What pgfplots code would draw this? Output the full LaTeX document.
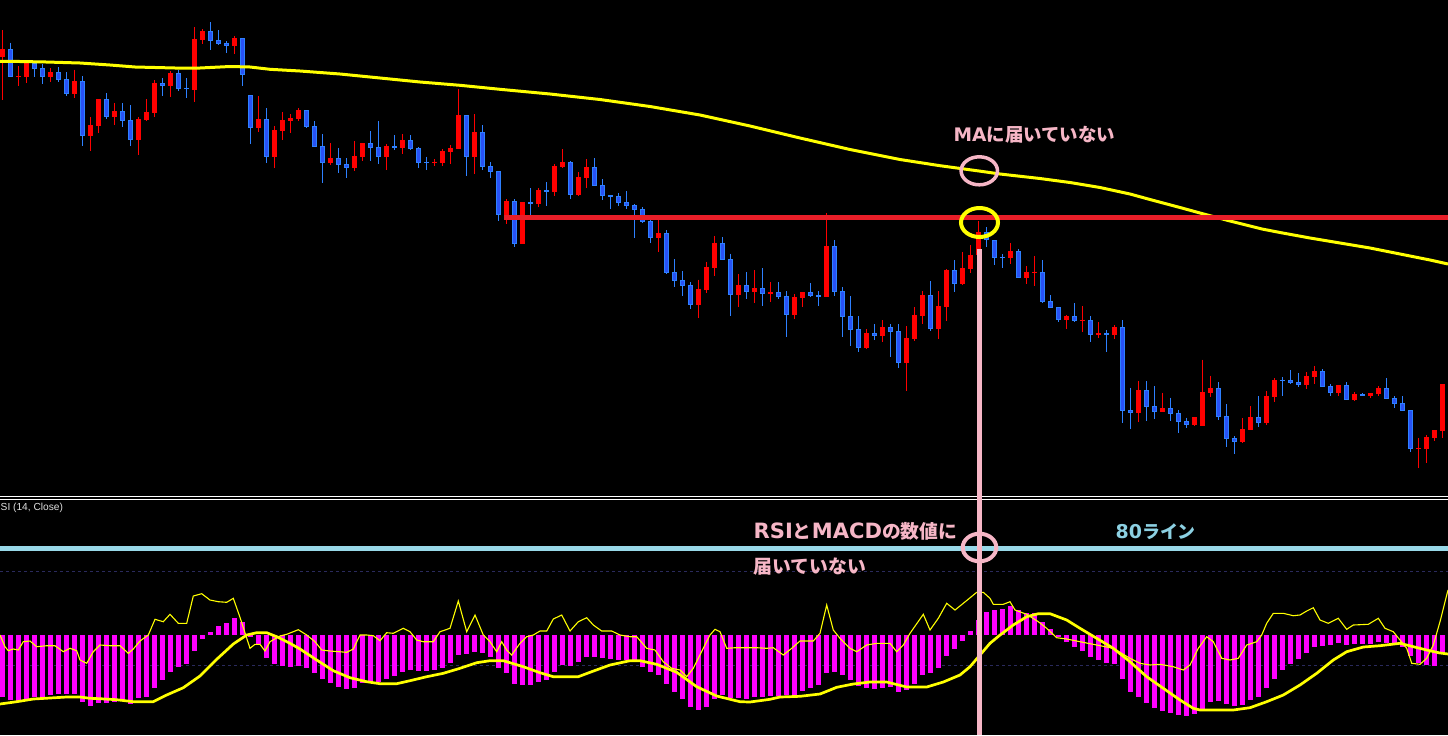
\documentclass[border=0pt]{standalone}
\usepackage{pgfplots}
\usepackage{pgfplotstable}
\pgfplotsset{compat=1.18}
\usepackage{fontspec}
\setmainfont{Liberation Sans}
\newfontfamily\jp{Noto Sans CJK JP}
\newfontfamily\lat{DejaVu Sans}
\newcommand{\latb}[2]{{\lat\bfseries\fontsize{#1}{#1}\selectfont #2}}
\newcommand{\jpb}[2]{{\jp\bfseries\fontsize{#1}{#1}\selectfont #2}}

\definecolor{upred}{RGB}{255,0,0}
\definecolor{dnedge}{RGB}{46,128,255}
\definecolor{dnfill}{RGB}{40,82,245}
\definecolor{maline}{RGB}{255,255,0}
\definecolor{hline}{RGB}{232,30,40}
\definecolor{pinkc}{RGB}{246,182,198}
\definecolor{lblue}{RGB}{152,216,232}
\definecolor{lbtext}{RGB}{140,208,226}
\definecolor{macdc}{RGB}{255,0,255}
\definecolor{dashc}{RGB}{42,42,92}

% candles: i, high, low, body top, body bottom (chart rows, top = 0)
\pgfplotstableread{
i hi lo bt bb
0 30 100 49 57
2 66 86 76 77.3
3 60 83.3 62 76.7
6 68.3 81.7 72 76.7
9 69.7 97.7 81 93.7
11 117 150.7 125 135.7
12 99 132.7 99 125.7
14 103 125 111 116.7
17 117 154.7 119 139.7
18 99 120.7 112 119.7
19 80 116.7 83 113
21 71 97 73 85.7
24 27 102 39 90
25 29 43.7 31 39.7
29 36 53.7 38 45.7
32 96 132 119 127.7
34 126 167.7 130 156.7
35 112 140 120 131
36 114 133 118 121
37 108 121 110 119
41 143 164.7 158 162.7
44 141 170.7 156 167.7
45 143 160.7 143 156.7
48 144 169.7 146 156.7
50 134 153.7 140 147.7
54 159 165.7 161.7 163
55 149 165.7 151 162.7
56 145 163.7 148 151.7
57 89 149 115 149
59 114 173.7 132 156.7
63 199 223.7 201 220
65 202 243.7 202 243.7
67 188 206.7 190 203.7
69 164 195.7 166 191.7
70 149 167.7 162 167
72 172 195.7 177 194.7
73 159 187.7 167 177.7
82 219 251.7 233 237.7
87 279.7 317.7 288.7 304.7
88 261.7 292.7 266.7 289.7
89 236 275.7 242.7 267.7
92 274 306.7 285 294.7
94 270 303 288 291.7
96 282 302 292 293.7
99 294 318.7 297 314.7
100 292 306.7 292 297.7
103 213 297 246 297
108 329 348.7 333 347.7
110 320 341.7 327 335.7
113 326 390.7 338 362.7
114 307 340.7 315 338.7
115 291 323.7 295 315.7
117 291 338.7 306 328.7
118 269 320.7 270 306.7
120 252 284.7 268 283.7
121 245 272.7 255 268.7
122 221 255 232 255
126 243 263.7 251 257.7
128 266 284 272 277.7
129 256 285.7 271.7 273
133 315 329 316 319.7
135 306 331.7 319.7 320.7
137 322 338 333 334.7
139 325 339 327 334.7
142 381 421.7 390 412.7
145 392.7 411.7 408 411.7
149 417 425.7 417 424.7
150 359.7 425.7 392 425.7
151 375.7 396.7 388 392.7
155 418 442.7 429 441.7
156 406 429.7 417 429.7
158 391 424.7 396 422.7
159 378 401.7 380 396.7
163 372 388.7 376 384.7
164 366 383.7 371 376.7
167 385 395.7 385 392.7
169 392 400.7 394 399.7
171 393 397.7 393 395.7
172 386 395.7 388 393.7
177 438 467.7 448 449.3
178 435 462.7 437 449
179 430 440.7 430 437.7
180 384 437.7 384 430.7
}\uptab

\pgfplotstableread{
i hi lo bt bb
1 42.7 76.7 49 76.7
4 61.7 76.7 62.7 68.7
5 64 84 68.3 76.7
7 67 81.7 72 79.7
8 72 95.7 79 93.7
10 76 145.7 81 135.7
13 93 118.7 99 116.7
15 103 126.7 111 120.7
16 105 145.7 120 139.7
20 78 96 83 85.7
22 70 91 73 89
23 78 98 88 89.3
26 22 50 31 40.7
27 30 45 40 43.7
28 41 53 42.7 45.7
30 38 86 38 74.7
31 95 144 95 127.7
33 108 163 119 156.7
38 110 127.7 110 126.7
39 121 146.7 126 146.7
40 134 182.7 146 162.7
42 148 172.7 158 164.7
43 158 177.7 164 167.7
46 131 160.7 143 147.7
47 121 163.7 147 156.7
49 135 149.7 146 147.7
51 135 149.7 140 148.7
52 147 167.7 148 162.7
53 156.7 169.7 161.7 163
58 115 175.7 115 156.7
60 125 169.7 132 166.7
61 162 177.7 166 171.7
62 171 220.7 171 214.7
64 199 246.7 201 243.7
66 188 215 202 203.7
68 182 205.7 190 191.7
71 161 198.7 162 194.7
74 158 185.7 167 185.7
75 179 199.7 185 195.7
76 195 208.7 195 196.7
77 193 205.7 196 202.7
78 191 208.7 202 205.7
79 204 237.7 205 209.7
80 207 222.7 209 221.7
81 220 242.7 221 237.7
83 230 273.7 233 272.7
84 259 286.7 272 280.7
85 271 295.7 280 285.7
86 282 308.7 285 304.7
90 237 259.7 242.7 259.7
91 253.7 315.7 259 294.7
93 272 298.7 285 291.7
95 268 306 288 294
97 282 298.7 292 296.7
98 291 336.7 296 314.7
101 283 296.7 292 295.7
102 291 306 295 296.7
104 240 295.7 246 291.7
105 287 336.7 291 316.7
106 296 345.7 316 329.7
107 316 351.7 329 347.7
109 324 339.7 333 335.7
111 324 356.7 327 331.7
112 324 367.7 331 362.7
116 281 330.7 295 328.7
119 260 291.7 270 283.7
123 227 247 232 240
124 240 264.7 240 257.7
125 254 268 256.7 258
127 249 277.7 251 277.7
130 260 302.7 272 301.7
131 295 307.7 301 307.7
132 307 321.7 307 319.7
134 303 321.7 316 320.7
136 316 341.7 320 334.7
138 330 351.7 333 334.7
140 320 422.7 327 410.7
141 387.7 428.7 410 412.7
143 381 420.7 390 406.7
144 386 418.7 406 411.7
146 397.7 420.7 408 413.7
147 410 432.7 413 421.7
148 417.7 427.7 421 424.7
152 382 419.7 388 416.7
153 404 446.7 416 438.7
154 436 453.7 438 441.7
157 396 426.7 417 422.7
160 377 395.7 380 381.3
161 370 383.7 380 382.7
162 373 386.7 382 384.7
165 369 386.7 371 386.7
166 384 395.7 386 392.7
168 382 399.7 385 399.7
170 393 395.7 394 395.7
173 378 398.7 388 398.7
174 396 407.7 398 403.7
175 396 410.7 403 410.7
176 410 451.7 410 448.7
}\dntab

% MACD histogram: bar end row, zero row = 635
\pgfplotstableread{
i m
0 696.7
1 700
2 701
3 699
4 696.7
5 696.7
6 695
7 694
8 694
9 694
10 701.7
11 705.7
12 703
13 703
14 701.7
15 701
16 704
17 698.3
18 696.7
19 687.7
20 679.7
21 671.7
22 666.7
23 664
24 650.7
25 638.7
26 631.7
27 626
28 622.7
29 618
30 622
31 637
32 644.3
33 657.7
34 664
35 665.7
36 666.7
37 665.7
38 667.7
39 672.7
40 679
41 682.7
42 687
43 688.7
44 688.3
45 683.3
46 681.7
47 682.3
48 678.7
49 676
50 671.7
51 670
52 670.7
53 670.7
54 669.7
55 668
56 663.3
57 655
58 654.3
59 651.7
60 653
61 656.7
62 667.7
63 672.7
64 684
65 685
66 684.7
67 682
68 680
69 672
70 665
71 665.7
72 662
73 656.7
74 656.7
75 657.7
76 658.7
77 660.3
78 660.3
79 660.7
80 667
81 671.7
82 675
83 683.7
84 691.7
85 698.7
86 707
87 709.7
88 706.7
89 698.7
90 695
91 697.7
92 698.3
93 698.7
94 697
95 696.7
96 696
97 696
98 695.3
99 695.3
100 690.7
101 688
102 684.7
103 672.7
104 671.7
105 675
106 680
107 685.7
108 688
109 688.7
110 687.7
111 686.7
112 691.7
113 690
114 684
115 675
116 672.7
117 668
118 655.7
119 649
120 640.7
121 631
122 620
123 612
124 610
125 609
126 606
127 610
128 612.7
129 613.3
130 622
131 629
132 637
133 641.7
134 646.7
135 650.7
136 657
137 660
138 662.7
139 664
140 679.3
141 691.7
142 697
143 702.7
144 707.7
145 710.7
146 712.7
147 715
148 715.7
149 714.3
150 708.7
151 701.7
152 700.7
153 704
154 706
155 705
156 699.7
157 696.7
158 688.3
159 678.7
160 669.7
161 663.7
162 658.7
163 653
164 646.7
165 645.7
166 645
167 642.7
168 644.7
169 644
170 644
171 644.3
172 642
173 643
174 643
175 646.7
176 656
177 662.7
178 664.7
179 665.7
180 654.3
}\macdtab

\begin{document}
\begin{tikzpicture}
\begin{axis}[
  scale only axis,
  width=14.48cm, height=7.35cm,
  xmin=0, xmax=1448,
  ymin=0, ymax=735,
  y dir=reverse,
  ticks=none,
  axis line style={draw=none},
  axis background/.style={fill=black},
  clip=true,
]
% ---- price panel: candles
\addplot[quiver={u=0,v=\thisrow{lo}-\thisrow{hi}}, color=upred, line width=0.012cm]
  table[x expr=8*\thisrow{i}+2.3, y=hi] {\uptab};
\addplot[quiver={u=0,v=\thisrow{bb}-\thisrow{bt}}, color=upred, line width=0.05cm]
  table[x expr=8*\thisrow{i}+2.3, y=bt] {\uptab};
\addplot[quiver={u=0,v=\thisrow{lo}-\thisrow{hi}}, color=dnedge, line width=0.012cm]
  table[x expr=8*\thisrow{i}+2.3, y=hi] {\dntab};
\addplot[quiver={u=0,v=\thisrow{bb}-\thisrow{bt}}, color=dnedge, line width=0.05cm]
  table[x expr=8*\thisrow{i}+2.3, y=bt] {\dntab};
\addplot[quiver={u=0,v={max(\thisrow{bb}-\thisrow{bt}-2,0)}}, color=dnfill, line width=0.03cm]
  table[x expr=8*\thisrow{i}+2.3, y expr=\thisrow{bt}+1] {\dntab};

% moving average
\addplot[color=maline, line width=0.03cm] coordinates {
(0,61.3) (20,61.5) (46,62) (80,63) (110,65) (135,67) (175,68) (200,68)
(230,66.5) (250,67) (270,69.3) (300,71) (340,74) (380,78) (420,82)
(460,85.3) (500,89.3) (550,94) (600,99.5) (650,106.5) (700,115) (750,126)
(800,138) (850,149.5) (900,159.5) (940,165.7) (979,171) (1000,174)
(1040,178.5) (1070,182.5) (1100,187.5) (1130,194) (1150,199.5) (1180,207.5)
(1200,213) (1230,221) (1262,229) (1280,232.5) (1310,238) (1340,243)
(1370,248) (1400,254) (1430,260) (1448,264)};

% resistance line
\addplot[color=hline, line width=0.05cm] coordinates {(504,217.5) (1448,217.5)};

% panel separators
\addplot[color=white, line width=0.01cm] coordinates {(0,496.7) (1448,496.7)};
\addplot[color=white, line width=0.01cm] coordinates {(0,499.5) (1448,499.5)};

% ---- indicator panel
\addplot[color=dashc, line width=0.01cm, dash pattern=on 0.03cm off 0.03cm]
  coordinates {(0,571.3) (1448,571.3)};
\addplot[color=dashc, line width=0.01cm, dash pattern=on 0.03cm off 0.03cm]
  coordinates {(0,665.3) (1448,665.3)};
\addplot[color=lblue, line width=0.045cm] coordinates {(0,548.3) (1448,548.3)};

% MACD histogram
\addplot[quiver={u=0,v=\thisrow{m}-635}, color=macdc, line width=0.047cm]
  table[x expr=8*\thisrow{i}+2.3, y expr=635] {\macdtab};

% RSI (thin)
\addplot[color=maline, line width=0.011cm] coordinates {
(0,635) (5,646.7) (8.3,650.7) (13.3,649) (18.3,650) (23.3,641.7) (30,641)
(36.7,646.7) (46.7,645.7) (55,645.7) (63.3,651.7) (70,648.3) (76.7,650.7)
(80,660) (86.7,663.3) (93.3,651.7) (100,645) (110,645.7) (120,645.7)
(128.3,653.3) (133.3,649) (140,641) (148.3,635) (155,619.3) (163.3,621.7)
(170,614.3) (178.3,623.3) (186.7,623.3) (193.3,596) (201.7,593.7) (210,600)
(218.3,601.7) (226.7,602.3) (233.3,598.3) (240,617.3) (250,648.3) (255,644.3)
(260,644.3) (265,651) (270,641.7) (280,636) (286.7,634.3) (298.3,629.7)
(306.7,635) (315,641.7) (321.7,650) (330,651) (346.7,652.3) (353.3,649)
(360,635) (366.7,635) (373.3,635.7) (380,640.7) (386.7,632.7) (393.3,633.3)
(403.3,628.3) (410,631.7) (416.7,640) (423.3,641.7) (433.3,641.7) (440,631.7)
(450,628.3) (458.3,601) (466.7,631.7) (475,615) (483.3,635) (490,641.7)
(493.3,646.7) (496.7,651.7) (501.7,641.7) (506.7,650) (511.7,655) (520,643.3)
(526.7,636.7) (533.3,635) (540,631) (546.7,631) (553.3,619) (561.7,615)
(570,631) (578.3,621.7) (586.7,617.7) (593.3,625) (601.7,631) (611.7,631)
(620,635) (630,636.7) (636.7,636.7) (646.7,648.3) (655,650) (663.3,661.7)
(671.7,668.3) (680,670) (686.7,676.7) (693.3,668.3) (703.3,648.3) (710,635)
(715,629.3) (720,631.7) (726.7,648.3) (735,647.7) (743.3,647.7) (756.7,647.7)
(766.7,648.3) (773.3,647.7) (783.3,655) (791.7,648.3) (800,641) (813.3,641)
(820,633.3) (826.7,605) (833.3,630) (840,638.3) (850,648.3) (856.7,651.7)
(866.7,645) (876.7,643.3) (890,643.3) (896.7,651.7) (903.3,645) (910,633.3)
(923.3,614.3) (930,630) (938.3,618.3) (946.7,603.3) (955,610) (963.3,603.3)
(976.7,592.3) (983.3,592.3) (990,598.3) (993.3,604.3) (1003.3,604.3)
(1010,601.7) (1015,610) (1026.7,614.3) (1038.3,621.7) (1046.7,628.3)
(1056.7,637.7) (1066.7,639) (1080,641.7) (1096.7,645) (1113.3,648.3)
(1130,658.3) (1140,663.3) (1150,665) (1160,664.3) (1173.3,666.7) (1183.3,670)
(1190,665) (1198.3,648.3) (1206.7,636.7) (1213.3,641.7) (1221.7,658.3)
(1230,660) (1238.3,658.3) (1246.7,645) (1256.7,641.7) (1261.7,635)
(1266.7,623.3) (1273.3,613.3) (1283.3,613.3) (1293.3,615.7) (1300,615)
(1306.7,611) (1313.3,607.7) (1320,620) (1328.3,623.3) (1338.3,618.3)
(1346.7,629.3) (1353.3,625) (1368.3,624.3) (1378.3,618.3) (1385,628.3)
(1393.3,631.7) (1400,640) (1406.7,648.3) (1411.7,663.3) (1420,664.3)
(1426.7,658.3) (1433.3,645) (1440,621.7) (1448,590)};

% MACD signal (thick)
\addplot[color=maline, line width=0.027cm] coordinates {
(0,704) (16.7,701.7) (33.3,699) (50,698) (66.7,697) (80,697) (90,698.3)
(100,698.7) (116.7,699.7) (133.3,701.7) (153.3,701.7) (166.7,695)
(183.3,687.7) (200,676) (216.7,659.3) (233.3,644) (246.7,635) (256.7,632.7)
(266.7,632.7) (276.7,636.7) (290,643.3) (300,649) (316.7,660) (333.3,670.7)
(350,677.7) (366.7,681.7) (380,683.7) (396.7,683.7) (410,680.7) (426.7,676.7)
(443.3,673.3) (460,668.3) (476.7,662.7) (490,660.7) (503.3,660.7)
(523.3,666.7) (540,672.7) (553.3,676.7) (578.3,676.7) (590,672.3) (610,665)
(630,660.7) (640,660.7) (656.7,664.3) (676.7,672.3) (696.7,686.7) (716.7,696)
(740,701.7) (750,702) (770,699.3) (780,697) (800,696.3) (820,694)
(836.7,687.3) (853.3,684) (870,682) (886.7,682) (906.7,687) (926.7,687)
(943.3,682) (960,675) (970,666.7) (980,655) (990,643.3) (1000,635)
(1013.3,625) (1026.7,616.7) (1038.3,613.7) (1050,613.7) (1066.7,620)
(1080,628.3) (1096.7,638.3) (1113.3,648.3) (1130,661.7) (1146.7,676.7)
(1163.3,688.3) (1180,700) (1193.3,708.3) (1200,710) (1233.3,710)
(1250,707.7) (1266.7,701.7) (1283.3,695) (1300,685) (1316.7,673.3)
(1333.3,660) (1346.7,651.7) (1363.3,647) (1380,645.7) (1400,643.3)
(1413.3,646.7) (1426.7,650) (1440,653) (1448,654)};

% ---- annotations
\draw[color=maline, line width=0.04cm] (axis cs:979.5,222.5) ellipse [x radius=0.185cm, y radius=0.145cm];
\draw[color=pinkc, line width=0.05cm] (axis cs:979.5,249) -- (axis cs:979.5,735);
\draw[color=pinkc, line width=0.035cm] (axis cs:979.3,170.8) ellipse [x radius=0.182cm, y radius=0.14cm];
\draw[color=pinkc, line width=0.04cm] (axis cs:979.5,547.5) ellipse [x radius=0.168cm, y radius=0.138cm];

\node[anchor=base west, inner sep=0pt, text=pinkc]
  at (axis cs:953,141.5) {\latb{5.3pt}{MA}\jpb{5.25pt}{に届いていない}};
\node[anchor=base west, inner sep=0pt, text=pinkc]
  at (axis cs:753,538.5) {\latb{6pt}{RSI}\jpb{5.35pt}{と}\latb{6pt}{MACD}\jpb{5.35pt}{の数値に}};
\node[anchor=base west, inner sep=0pt, text=pinkc]
  at (axis cs:753,573) {\jpb{5.35pt}{届いていない}};
\node[anchor=base west, inner sep=0pt, text=lbtext]
  at (axis cs:1115,538.5) {\latb{5.4pt}{80}\jpb{5.1pt}{ライン}};
\node[anchor=base west, inner sep=0pt, text=white!88!black, font=\fontsize{2.9pt}{3pt}\selectfont]
  at (axis cs:0,510.5) {SI (14, Close)};
\end{axis}
\pgfresetboundingbox
\path[use as bounding box] (0,0) rectangle (14.48cm,7.35cm);
\end{tikzpicture}
\end{document}
